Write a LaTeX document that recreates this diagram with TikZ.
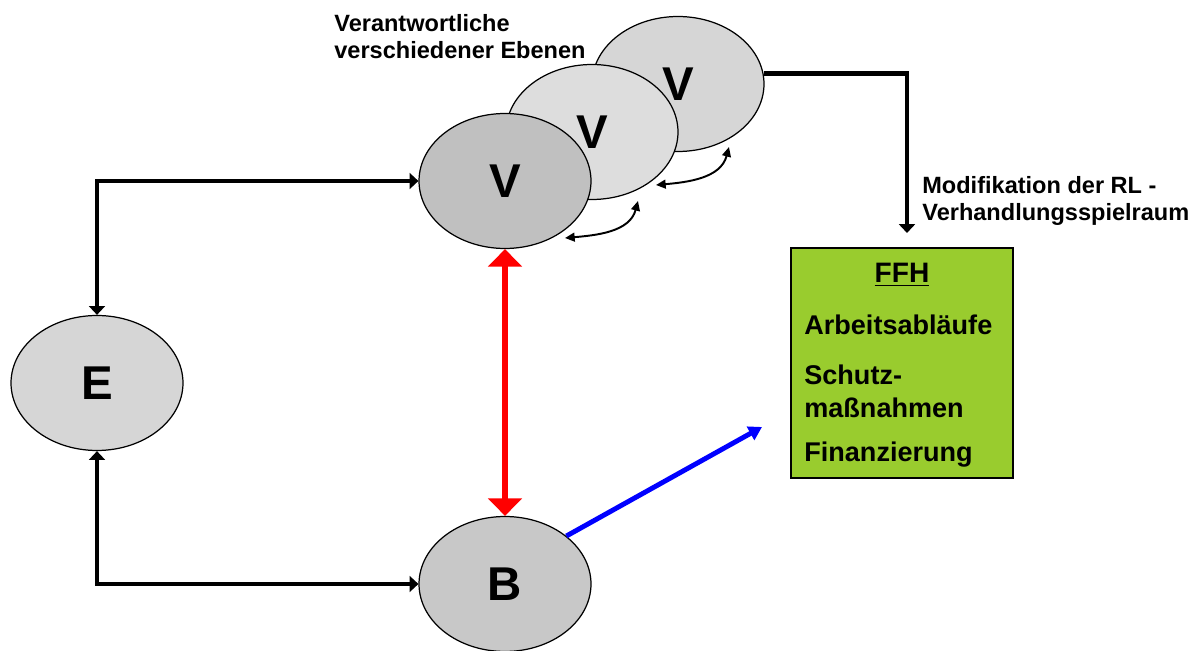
\documentclass[tikz,border=0pt]{standalone}
\usepackage{fontspec}
\setmainfont{Liberation Sans}
\usetikzlibrary{arrows.meta,shapes.geometric}
\definecolor{ovalDunkel}{HTML}{C0C0C0}
\definecolor{ovalHell}{HTML}{DDDDDD}
\definecolor{ovalMuster}{HTML}{D6D6D6}
\definecolor{ovalGrau}{HTML}{C8C8C8}
\definecolor{ffhGruen}{HTML}{99CC2E}
\definecolor{pfeilRot}{HTML}{FF0000}
\definecolor{pfeilBlau}{HTML}{0000FF}

\begin{document}
\begin{tikzpicture}[x=0.02cm,y=-0.02cm,
  oval/.style={ellipse,draw,line width=0.7pt,minimum width=3.44cm,minimum height=2.7cm,inner sep=0pt,font=\fontsize{27}{27}\selectfont\bfseries},
  lbl/.style={anchor=west,align=left,inner sep=0pt,font=\fontsize{13.4}{15.4}\selectfont\bfseries},
  boxtxt/.style={anchor=west,align=left,inner sep=0pt,font=\fontsize{15.4}{18.8}\selectfont\bfseries},
  conn/.style={line width=2.3pt,arrows={Triangle[length=5pt,width=9pt]-Triangle[length=5pt,width=9pt]}},
  kurve/.style={line width=1.1pt,arrows={Triangle[length=5.5pt,width=5pt]-Triangle[length=5.5pt,width=5pt]}}]
\useasboundingbox (0,0) rectangle (1197,651);
% Ebenen von hinten nach vorne
\node[oval,fill=ovalMuster] (V3) at (678,84) {V};
\node[oval,fill=ovalHell] (V2) at (592,132) {V};
\node[oval,fill=ovalDunkel] (V1) at (505,181) {V};
\node[oval,fill=ovalMuster] (E) at (97,383) {E};
\node[oval,fill=ovalGrau] (B) at (505,584) {B};
\node[lbl] (ebenen) at (334,37) {Verantwortliche\\verschiedener Ebenen};
\node[lbl] (modif) at (922,201) {Modifikation der RL -\\Verhandlungsspielraum};
\node[draw,line width=1pt,fill=ffhGruen,minimum width=4.44cm,minimum height=4.6cm] (FFH) at (902,363) {};
\node[inner sep=0pt,font=\fontsize{16}{16}\selectfont\bfseries] (ffhTitel) at (902,275) {\underline{FFH}};
\node[boxtxt] (ablauf) at (804,325) {Arbeitsabläufe};
\node[boxtxt] (schutz) at (804,391) {Schutz-\\maßnahmen};
\node[boxtxt] (finanz) at (804,455) {Finanzierung};
\coordinate (modEnde) at (907,233);
\coordinate (blauEnde) at (762,427);
\coordinate (k1a) at (565,238);
\coordinate (k1b) at (638,201);
\coordinate (k2a) at (656,185);
\coordinate (k2b) at (729,147);
\draw[conn] (E.north) |- (V1.west);
\draw[conn] (E.south) |- (B.west);
\draw[line width=2.3pt,-{Triangle[length=5pt,width=9pt]}] (V3.7) -| (modEnde);
\draw[line width=3.6pt,pfeilRot,arrows={Triangle[length=10pt,width=19pt]-Triangle[length=10pt,width=19pt]}] (V1.south) -- (B.north);
\draw[line width=2.8pt,pfeilBlau,-{Triangle[length=7.5pt,width=8.5pt]}] (B.38) -- (blauEnde);
\draw[kurve] (k1a) to[out=5,in=255] (k1b);
\draw[kurve] (k2a) to[out=5,in=255] (k2b);
\end{tikzpicture}
\end{document}
